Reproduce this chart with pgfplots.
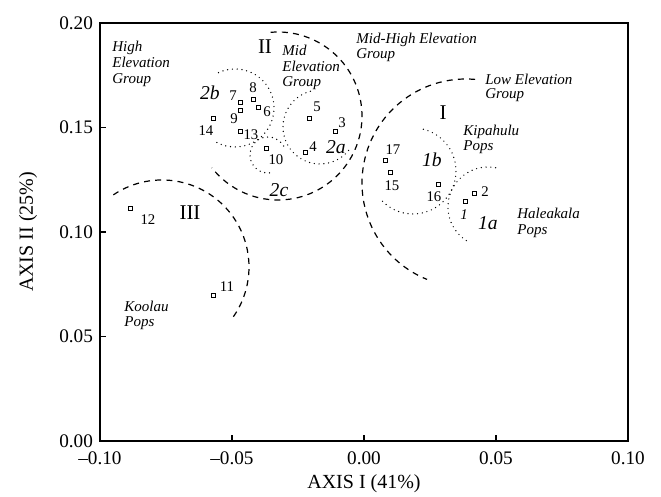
\documentclass[border=0pt]{standalone}
\usepackage{fontspec}
\setmainfont{Liberation Serif}
\usepackage{pgfplots}
\pgfplotsset{compat=1.18}
\newcommand{\ann}{\fontsize{7.5}{8}\selectfont\itshape}
\newcommand{\grp}{\fontsize{9.8}{11}\selectfont\itshape}
\newcommand{\rom}{\fontsize{10.5}{12}\selectfont}
\newcommand{\pl}{\fontsize{7.4}{8}\selectfont}
\tikzset{
  dsh/.style={line width=0.6pt, dash pattern=on 3pt off 2.6pt},
  dot/.style={line width=0.7pt, line cap=round, dash pattern=on 0pt off 2.4pt},
}
\begin{document}
\begin{tikzpicture}
\begin{axis}[
  at={(0pt,0pt)}, anchor=south west,
  scale only axis, width=264pt, height=209pt,
  xmin=-0.1, xmax=0.1, ymin=0, ymax=0.2,
  xtick={-0.1,-0.05,0,0.05,0.1},
  xticklabels={\textendash0.10,\textendash0.05,0.00,0.05,0.10},
  ytick={0,0.05,0.1,0.15,0.2},
  yticklabels={0.00,0.05,0.10,0.15,0.20},
  tick pos=left, tick align=inside, major tick length=3pt,
  axis line style={line width=0.8pt},
  tick style={line width=0.6pt, black},
  ticklabel style={font=\fontsize{9.6}{11}\selectfont},
  xticklabel style={yshift=-2pt},
  clip=false,
]
\addplot[only marks, mark=square, mark size=1pt, mark options={line width=0.5pt, black}] table {
x y
0.0385 0.1145
0.0418 0.1185
-0.0107 0.1480
-0.0223 0.1379
-0.0205 0.1541
-0.0399 0.1597
-0.0467 0.1621
-0.0419 0.1636
-0.0467 0.1580
-0.0369 0.1400
-0.0569 0.0695
-0.0886 0.1113
-0.0467 0.1483
-0.0569 0.1541
0.0101 0.1284
0.0281 0.1225
0.0082 0.1344
};
\end{axis}
% group outlines
\draw[dsh] (31pt,87pt) ++(124:43.5pt) arc[start angle=124, end angle=-38, radius=43.5pt];
\draw[dsh] (89pt,162.5pt) ++(95:42pt) arc[start angle=95, end angle=-142, radius=42pt];
\draw[dsh] (183pt,129pt) ++(85:52pt) arc[start angle=85, end angle=248, radius=52pt];
\draw[dot] (67.5pt,166.5pt) ++(115:19.5pt) arc[start angle=115, end angle=-118, radius=19.5pt];
\draw[dot] (110pt,157pt) ++(105:18.5pt) arc[start angle=105, end angle=323, radius=18.5pt];
\draw[dot] (84pt,143pt) ++(30:9pt) arc[start angle=30, end angle=280, radius=9pt];
\draw[dot] (156.5pt,135pt) ++(76:21.5pt) arc[start angle=76, end angle=-136, radius=21.5pt];
\draw[dot] (194pt,117pt) ++(79:20pt) arc[start angle=79, end angle=241, radius=20pt];
\begin{scope}[x=0.5pt, y=-0.5pt, xshift=-50pt, yshift=220.5pt]
% axis labels
\node[font=\fontsize{10}{12}\selectfont] at (364,484) {AXIS I (41\%)};
\node[font=\fontsize{10}{12}\selectfont, rotate=90] at (28,232) {AXIS II (25\%)};
% annotations
\node[font=\ann, anchor=base west, inner sep=0pt] at (112,52) {High};
\node[font=\ann, anchor=base west, inner sep=0pt] at (112,68) {Elevation};
\node[font=\ann, anchor=base west, inner sep=0pt] at (112,84) {Group};
\node[font=\ann, anchor=base west, inner sep=0pt] at (282,56) {Mid};
\node[font=\ann, anchor=base west, inner sep=0pt] at (282,72) {Elevation};
\node[font=\ann, anchor=base west, inner sep=0pt] at (282,87) {Group};
\node[font=\ann, anchor=base west, inner sep=0pt] at (356,44) {Mid-High Elevation};
\node[font=\ann, anchor=base west, inner sep=0pt] at (356,59) {Group};
\node[font=\ann, anchor=base west, inner sep=0pt] at (485,85) {Low Elevation};
\node[font=\ann, anchor=base west, inner sep=0pt] at (485,99) {Group};
\node[font=\ann, anchor=base west, inner sep=0pt] at (463,136) {Kipahulu};
\node[font=\ann, anchor=base west, inner sep=0pt] at (463,151) {Pops};
\node[font=\ann, anchor=base west, inner sep=0pt] at (517,219) {Haleakala};
\node[font=\ann, anchor=base west, inner sep=0pt] at (517,235) {Pops};
\node[font=\ann, anchor=base west, inner sep=0pt] at (124,312) {Koolau};
\node[font=\ann, anchor=base west, inner sep=0pt] at (124,327) {Pops};
% roman numerals
\node[font=\rom] at (265,47) {II};
\node[font=\rom] at (443,113) {I};
\node[font=\rom] at (190,213) {III};
% subgroup labels
\node[font=\grp] at (210,93) {2b};
\node[font=\grp] at (336,147) {2a};
\node[font=\grp] at (279,190) {2c};
\node[font=\grp] at (432,160) {1b};
\node[font=\grp] at (488,223) {1a};
% point labels
\node[font=\pl] at (233,96) {7};
\node[font=\pl] at (253,88) {8};
\node[font=\pl] at (267,112) {6};
\node[font=\pl] at (234,119) {9};
\node[font=\pl] at (206,131) {14};
\node[font=\pl] at (251,135) {13};
\node[font=\pl] at (276,160) {10};
\node[font=\pl] at (317,107) {5};
\node[font=\pl] at (342,123) {3};
\node[font=\pl] at (313,147) {4};
\node[font=\pl] at (393,150) {17};
\node[font=\pl] at (392,186) {15};
\node[font=\pl] at (434,197) {16};
\node[font=\pl] at (485,192) {2};
\node[font=\pl\itshape] at (464,215) {1};
\node[font=\pl] at (148,220) {12};
\node[font=\pl] at (227,287) {11};
\end{scope}
\pgfresetboundingbox
\path (-50pt,-28pt) rectangle (280.5pt,220.5pt);
\end{tikzpicture}
\end{document}
